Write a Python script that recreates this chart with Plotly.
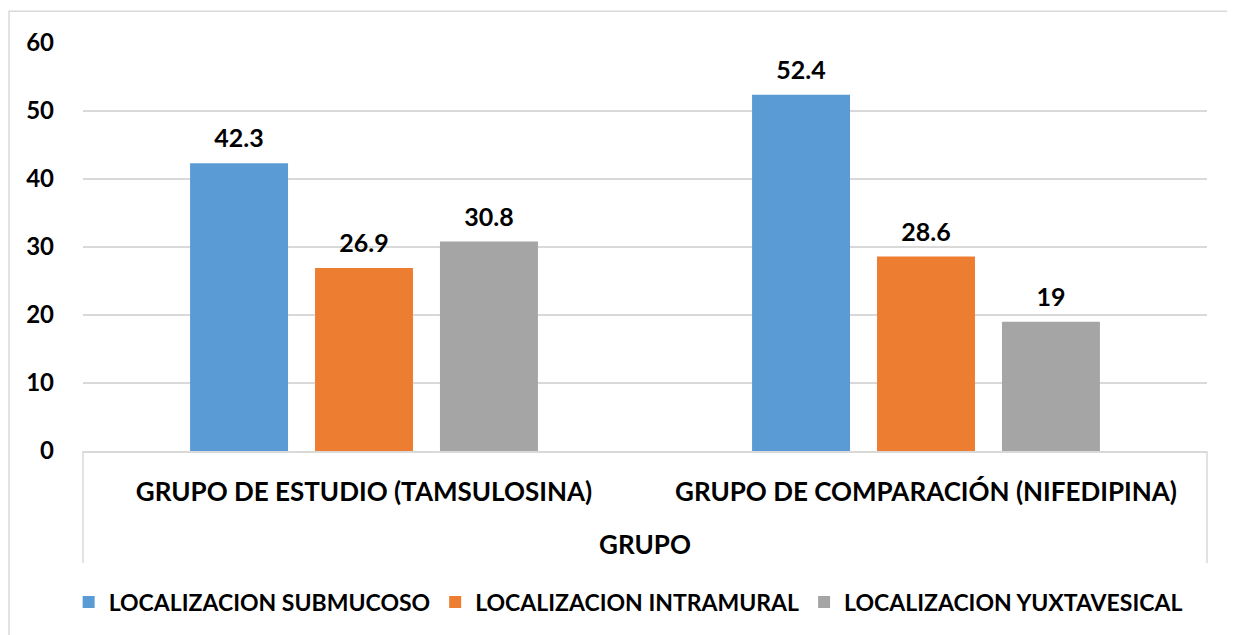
import plotly.graph_objects as go

# categorias y series
grupos = ["GRUPO DE ESTUDIO (TAMSULOSINA)", "GRUPO DE COMPARACIÓN (NIFEDIPINA)"]
series = ["LOCALIZACION SUBMUCOSO", "LOCALIZACION INTRAMURAL", "LOCALIZACION YUXTAVESICAL"]
submucoso = [42.3, 52.4]
intramural = [26.9, 28.6]
yuxtavesical = [30.8, 19]
colores = ["#5B9BD5", "#ED7D31", "#A5A5A5"]
y_ticks = [0, 10, 20, 30, 40, 50, 60]

FONT = "Lato"
valores = [submucoso, intramural, yuxtavesical]

fig = go.Figure()
for i in range(len(series)):
	fig.add_trace(go.Bar(x=grupos, y=valores[i], name=series[i],
		marker=dict(color=colores[i], line=dict(width=0)),
		offsetgroup=str(i)))
# etiquetas de datos encima de cada barra
for i in range(len(series)):
	fig.add_trace(go.Scatter(x=grupos, y=valores[i], mode="markers+text",
		text=[str(v) for v in valores[i]], textposition="top center",
		textfont=dict(family=FONT, size=25, color="black", weight="bold"),
		marker=dict(size=14, opacity=0), offsetgroup=str(i),
		showlegend=False, hoverinfo="skip", cliponaxis=False))

# bordes del grafico y separadores de categoria
shapes = [
	dict(type="rect", xref="paper", yref="paper", x0=-0.0658, x1=1.1, y0=-0.6, y1=1.078,
		line=dict(color="#d9d9d9", width=1.5), layer="below"),
	dict(type="line", xref="paper", yref="paper", x0=0, x1=0, y0=0, y1=-0.2745,
		line=dict(color="#d9d9d9", width=1.5)),
	dict(type="line", xref="paper", yref="paper", x0=1, x1=1, y0=0, y1=-0.2745,
		line=dict(color="#d9d9d9", width=1.5)),
]

fig.update_layout(
	width=1227, height=627,
	margin=dict(l=75, r=28, t=35, b=184),
	barmode="group", bargap=0.333, bargroupgap=0.216,
	scattermode="group", scattergap=0.333,
	plot_bgcolor="white", paper_bgcolor="white",
	font=dict(family=FONT, color="black"),
	shapes=shapes,
	showlegend=True,
	legend=dict(orientation="h", x=0.485, xanchor="center", y=-0.37, yanchor="middle",
		font=dict(family=FONT, size=23, weight="bold"), itemwidth=30,
		traceorder="normal"),
)
fig.update_xaxes(showline=True, linecolor="#d9d9d9", linewidth=1.5, ticks="",
	tickfont=dict(size=26, weight="bold"), ticklabelstandoff=17,
	title=dict(text="GRUPO", font=dict(size=26, weight="bold"), standoff=30),
	automargin=False)
fig.update_yaxes(range=[0, 60], tickvals=y_ticks, showgrid=True, gridcolor="#d9d9d9",
	gridwidth=1.5, zeroline=False, tickfont=dict(size=24, weight="bold"),
	ticklabelstandoff=28, automargin=False)

fig.write_html("out.html")
